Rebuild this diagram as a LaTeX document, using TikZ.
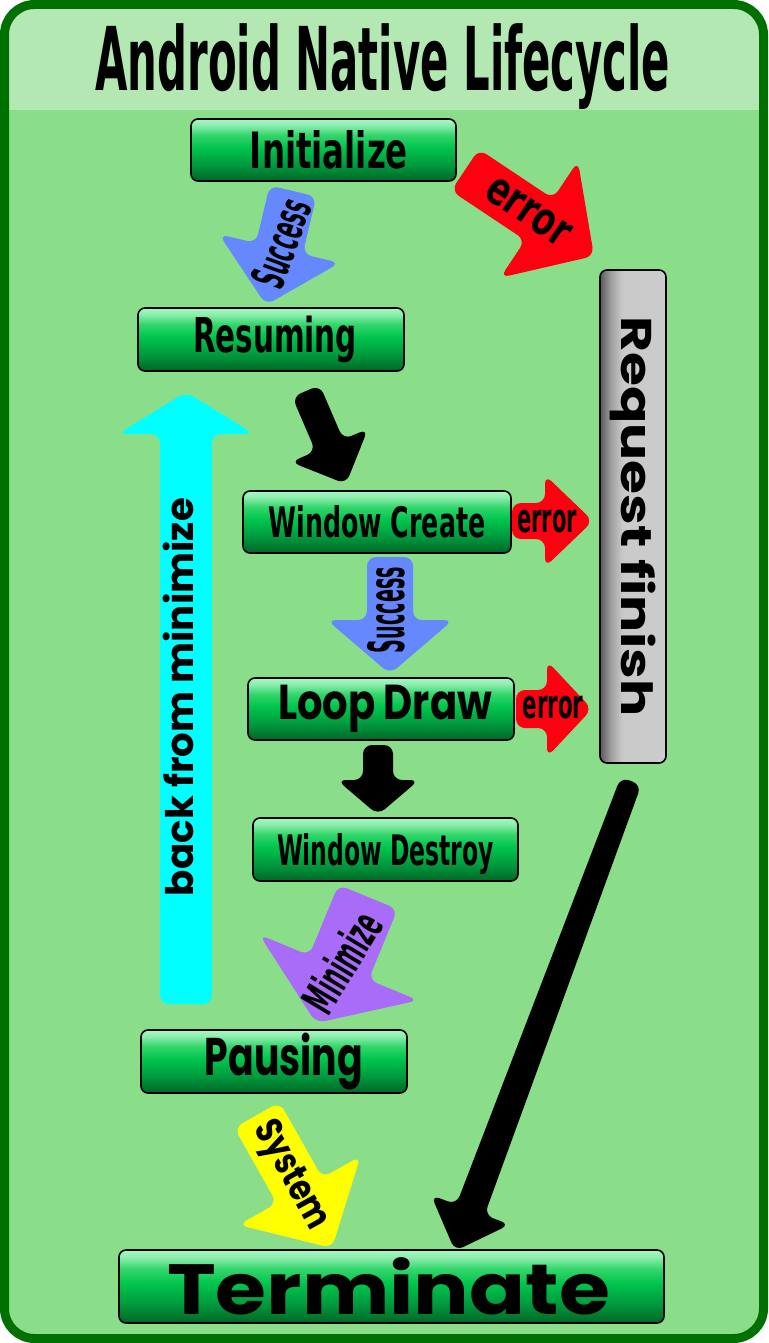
\documentclass[tikz,border=0pt]{standalone}
\usepackage{fontspec}
\usepackage{graphicx}
\usetikzlibrary{calc}
\newfontfamily\cf{DejaVu Sans Condensed}
\newfontfamily\rf{Poppins}
\newcommand\fcond[1]{\cf\bfseries\fontsize{#1pt}{#1pt}\selectfont}
\newcommand\fround[1]{\rf\bfseries\fontsize{#1pt}{#1pt}\selectfont}
\newcommand\fitx[2]{\resizebox{#1}{\height}{#2}}
\definecolor{framec}{HTML}{007000}
\definecolor{titleg}{HTML}{B3E8B3}
\definecolor{bodyg}{HTML}{8ADE8A}
\definecolor{blueA}{HTML}{6688FF}
\definecolor{redA}{HTML}{FF0010}
\definecolor{cyanA}{HTML}{00FFFF}
\definecolor{purpleA}{HTML}{A86CF8}
\definecolor{yellowA}{HTML}{FFFF00}
\pgfdeclareverticalshading{btnshade}{100bp}{rgb(0bp)=(0,0.40,0.15); rgb(25bp)=(0,0.40,0.15); rgb(38bp)=(0,0.60,0.24); rgb(52bp)=(0,0.77,0.30); rgb(62bp)=(0.2,0.84,0.42); rgb(70bp)=(0.55,0.93,0.68); rgb(75bp)=(0.66,0.97,0.76); rgb(100bp)=(0.66,0.97,0.76)}
\pgfdeclarehorizontalshading{reqshade}{100bp}{rgb(0bp)=(0.35,0.35,0.35); rgb(25bp)=(0.35,0.35,0.35); rgb(33bp)=(0.62,0.62,0.62); rgb(42bp)=(0.79,0.79,0.79); rgb(75bp)=(0.80,0.80,0.80); rgb(100bp)=(0.80,0.80,0.80)}
% #1 colour, #2 tail, #3 tip, #4 half shaft at tail, #5 half shaft at head, #6 half head width, #7 head length
\newcommand\fatarrow[7]{%
  \coordinate (fa-c) at ($(#3)!#7!(#2)$);
  \fill[#1, rounded corners=9pt] ($(#2)!#4!90:(#3)$) -- ($(fa-c)!#5!90:(#3)$) -- ($(fa-c)!#6!90:(#3)$) -- (#3) -- ($(fa-c)!#6!-90:(#3)$) -- ($(fa-c)!#5!-90:(#3)$) -- ($(#2)!#4!-90:(#3)$) -- cycle;}
\begin{document}
\begin{tikzpicture}[x=1pt,y=-1pt,
  btn/.style={draw=black, line width=1.6pt, rounded corners=7pt, shade, shading=btnshade, inner sep=0pt, minimum width=266pt, minimum height=62pt},
  reqbox/.style={draw=black, line width=1.6pt, rounded corners=7pt, shade, shading=reqshade, inner sep=0pt, minimum width=66pt, minimum height=493pt},
  lbl/.style={inner sep=0pt, text=black}]
\useasboundingbox (0,0) rectangle (768,1343);
% frame
\fill[bodyg, rounded corners=30pt] (4.5,4.5) rectangle (763.5,1338.5);
\begin{scope}
  \clip[rounded corners=30pt] (4.5,4.5) rectangle (763.5,1338.5);
  \fill[titleg] (0,0) rectangle (768,110);
\end{scope}
\draw[framec, line width=9pt, rounded corners=30pt] (4.5,4.5) rectangle (763.5,1338.5);
\node[lbl, anchor=base] (title) at (383,91) {\fitx{575pt}{\fcond{88}Android Native Lifecycle}};
% arrows
\fatarrow{blueA}{293,191}{266,305}{24pt}{24pt}{62pt}{58pt}
\fatarrow{redA}{465,170}{594,256}{25pt}{25pt}{70pt}{66pt}
\fatarrow{black}{306,391}{346,484}{15pt}{15pt}{42pt}{42pt}
\fatarrow{cyanA}{186,1004}{186,392}{26pt}{26pt}{68pt}{42pt}
\fatarrow{redA}{512,521}{593,521}{18pt}{18pt}{46pt}{48pt}
\fatarrow{redA}{516,709}{592,709}{19pt}{19pt}{48pt}{45pt}
\fatarrow{blueA}{390,557}{390,674}{23pt}{23pt}{63pt}{54pt}
\fatarrow{black}{378,745}{378,815}{15pt}{15pt}{41pt}{35pt}
\fatarrow{purpleA}{368,897}{316,1023}{32pt}{32pt}{86pt}{60pt}
\fatarrow{yellowA}{257,1115}{332,1248}{26pt}{26pt}{70pt}{66pt}
\fatarrow{black}{631,781}{455,1251}{11pt}{15pt}{42pt}{44pt}
% boxes
\node[btn, minimum width=265pt] (init) at (323.5,150) {\hspace*{11pt}\fitx{158pt}{\fcond{50}Initialize}};
\node[btn, minimum height=63pt] (res) at (271,339.5) {\hspace*{8pt}\fitx{164pt}{\fcond{48}Resuming}};
\node[btn, minimum width=268pt] (wc) at (377,522) {\fitx{217pt}{\fcond{42}Window Create}};
\node[btn] (ld) at (381,709) {\hspace*{8pt}\fitx{214pt}{\fround{49}Loop Draw}};
\node[btn, minimum width=265pt, minimum height=63pt, text depth=0pt] (wd) at (385.5,849.5) {\fitx{217pt}{\fcond{42}Window Destroy}};
\node[btn, minimum height=63pt] (pau) at (274,1061.5) {\hspace*{20pt}\fitx{158pt}{\fround{53}Pausing}};
\node[btn, minimum width=545pt, minimum height=73pt] (term) at (391.5,1286.5) {\fitx{443pt}{\fround{71}Terminate}\hspace*{6pt}};
\node[reqbox] (req) at (633,516.5) {\rotatebox{-90}{\fitx{400pt}{\fround{43}Request finish}}};
% labels
\node[lbl, rotate=70] (l1) at (281,243) {\fitx{90pt}{\fcond{46}Success}};
\node[lbl, rotate=-34] (l2) at (528,212) {\fitx{94pt}{\fcond{46}error}};
\node[lbl] (l3) at (547,522) {\fitx{60pt}{\fcond{40}error}};
\node[lbl] (l4) at (553,708) {\fitx{61pt}{\fcond{40}error}};
\node[lbl, rotate=90] (l5) at (386,610) {\fitx{86pt}{\fcond{50}Success}};
\node[lbl, rotate=59] (l6) at (342,962) {\fitx{108pt}{\fcond{46}Minimize}};
\node[lbl, rotate=-61] (l7) at (290,1176) {\fitx{118pt}{\fround{38}System}};
\node[lbl, rotate=90, anchor=base] (l8) at (193,697) {\fitx{398pt}{\fround{38}back from minimize}};
\end{tikzpicture}
\end{document}
